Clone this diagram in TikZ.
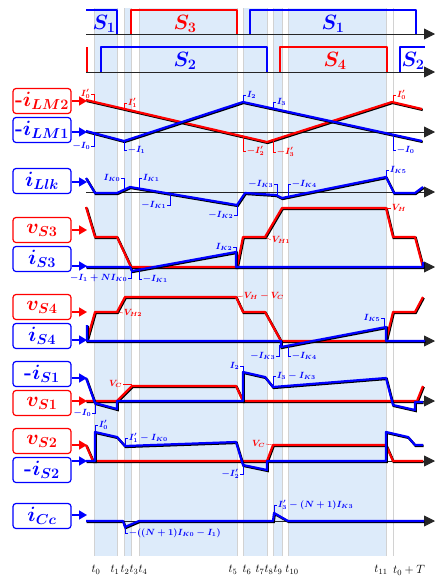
\documentclass[tikz,border=0pt]{standalone}
\usepackage{amsmath}
\usepackage{bm}
\usetikzlibrary{arrows.meta}
\definecolor{bandblue}{RGB}{221,235,250}

\begin{document}
\begin{tikzpicture}[x=1pt, y=-1pt,
    wave/.style={line width=2.2pt, line join=round,
      preaction={draw=black, line width=2.4pt, transform canvas={shift={(0.7pt,-0.9pt)}}}},
    sw/.style={line width=1.8pt, line join=round},
    axis/.style={black!85, line width=0.9pt, -{Triangle[length=11pt,width=11pt]}},
    sig/.style={draw, rounded corners=3pt, line width=1.2pt, minimum width=58pt,
      minimum height=25pt, inner sep=1pt, font=\huge},
    feed/.style={line width=1.6pt, -{Triangle[length=8pt,width=9pt]}},
    tag/.style={font=\small\boldmath, inner sep=0.6pt},
    lead/.style={line width=0.35pt},
    tline/.style={gray!35, line width=0.4pt},
    sname/.style={font=\huge\boldmath, inner sep=0pt}]
    \useasboundingbox (0,0) rectangle (435,581);

    % intervalos sombreados
    \fill[bandblue] (94,8) rectangle (117,556);
    \fill[bandblue] (124,8) rectangle (131,556);
    \fill[bandblue] (139,8) rectangle (237,556);
    \fill[bandblue] (243,8) rectangle (267,556);
    \fill[bandblue] (273,8) rectangle (282,556);
    \fill[bandblue] (288,8) rectangle (386,556);
    \foreach \t in {94,117,124,131,139,237,243,267,273,282,288,386,393}
        \draw[tline] (\t,8) -- (\t,556);

    % ejes
    \foreach \y in {34,72,132,192,267,341,401,461,521}
        \draw[axis] (86,\y) -- (435,\y);

    % senales de puerta
    \draw[sw, blue] (86,10) -- (117,10) -- (117,34);
    \draw[sw, red] (131,34) -- (131,10) -- (237,10) -- (237,34);
    \draw[sw, blue] (250,34) -- (250,10) -- (416,10) -- (416,34);
    \draw[sw, red] (87,47) -- (87,72);
    \draw[sw, blue] (101,72) -- (101,47) -- (267,47) -- (267,72);
    \draw[sw, red] (280,72) -- (280,47) -- (387,47) -- (387,72);
    \draw[sw, blue] (400,72) -- (400,47) -- (425,47);
    \node[sname, blue] (s1a) at (104,24) {$S_1$};
    \node[sname, red] (s3) at (185,24) {$S_3$};
    \node[sname, blue] (s1b) at (333,24) {$S_1$};
    \node[sname, blue] (s2a) at (185,61) {$S_2$};
    \node[sname, red] (s4) at (335,61) {$S_4$};
    \node[sname, blue] (s2b) at (413,61) {$S_2$};

    % etiquetas de las curvas
    \node[sig, red] (lm2) at (42,101) {\textbf{-}$\bm{i_{LM2}}$};
    \node[sig, blue] (lm1) at (42,130) {\textbf{-}$\bm{i_{LM1}}$};
    \node[sig, blue] (llk) at (42,181) {$\bm{i_{Llk}}$};
    \node[sig, red] (vs3) at (42,230) {$\bm{v_{S3}}$};
    \node[sig, blue] (is3) at (42,259) {$\bm{i_{S3}}$};
    \node[sig, red] (vs4) at (42,307) {$\bm{v_{S4}}$};
    \node[sig, blue] (is4) at (42,336) {$\bm{i_{S4}}$};
    \node[sig, blue] (is1) at (42,374) {\textbf{-}$\bm{i_{S1}}$};
    \node[sig, red] (vs1) at (42,403) {$\bm{v_{S1}}$};
    \node[sig, red] (vs2) at (42,441) {$\bm{v_{S2}}$};
    \node[sig, blue] (is2) at (42,470) {\textbf{-}$\bm{i_{S2}}$};
    \node[sig, blue] (icc) at (42,516) {$\bm{i_{Cc}}$};
    \coordinate (lm2e) at (87,101);
    \coordinate (lm1e) at (87,132);
    \coordinate (llke) at (87,182);
    \coordinate (vs3e) at (87,230);
    \coordinate (is3e) at (87,266);
    \coordinate (vs4e) at (87,312);
    \coordinate (is4e) at (87,340);
    \coordinate (is1e) at (87,378);
    \coordinate (vs1e) at (87,401);
    \coordinate (vs2e) at (87,445);
    \coordinate (is2e) at (87,461);
    \coordinate (icce) at (87,515);
    \foreach \n/\c in {lm2/red,lm1/blue,llk/blue,vs3/red,is3/blue,vs4/red,is4/blue,
                       is1/blue,vs1/red,vs2/red,is2/blue,icc/blue}
        \draw[feed, \c] (\n.east |- \n e) -- (\n e);

    % corrientes magnetizantes
    \draw[wave, red] (86,100) -- (267,142) -- (392,102) -- (422,109);
    \draw[wave, blue] (86,131) -- (124,141) -- (243,102) -- (422,141);
    \draw[lead, red] (94,102) |- (91,94) node[tag, left] (a0) {$I'_0$};
    \draw[lead, red] (124,109) |- (127,103) node[tag, right] (a1) {$I'_1$};
    \draw[lead, blue] (94,133) |- (91,146) node[tag, left] (b0) {$-I_0$};
    \draw[lead, blue] (124,141) |- (127,150) node[tag, right] (b1) {$-I_1$};
    \draw[lead, blue] (243,102) |- (246,95) node[tag, right] (b2) {$I_2$};
    \draw[lead, blue] (273,109) |- (276,102) node[tag, right] (b3) {$I_3$};
    \draw[lead, red] (243,137) |- (246,151) node[tag, right] (a2) {$-I'_2$};
    \draw[lead, red] (273,140) |- (276,152) node[tag, right] (a3) {$-I'_3$};
    \draw[lead, red] (393,102) |- (396,95) node[tag, right] (a4) {$I'_0$};
    \draw[lead, blue] (393,135) |- (396,150) node[tag, right] (b4) {$-I_0$};

    % corriente de fuga
    \draw[wave, blue] (86,178) -- (95,193) -- (117,193) -- (130,187) -- (237,205)
        -- (245,193) -- (276,195) -- (282,198) -- (386,177) -- (394,193)
        -- (415,193) -- (423,187);
    \draw[lead, blue] (124,190) |- (121,178) node[tag, left] (k0) {$I_{K0}$};
    \draw[lead, blue] (139,189) |- (142,178) node[tag, right] (k1) {$I_{K1}$};
    \draw[lead, blue] (170,194) |- (167,205) node[tag, left] (k1n) {$-I_{K1}$};
    \draw[lead, blue] (237,205) |- (234,215) node[tag, left] (k2n) {$-I_{K2}$};
    \draw[lead, blue] (277,196) |- (274,184) node[tag, left] (k3n) {$-I_{K3}$};
    \draw[lead, blue] (288,197) |- (291,184) node[tag, right] (k4n) {$-I_{K4}$};
    \draw[lead, blue] (386,177) |- (389,170) node[tag, right] (k5) {$I_{K5}$};

    % S3
    \draw[wave, red] (86,207) -- (95,237) -- (117,237) -- (131,267) -- (237,267)
        -- (243,237) -- (265,237) -- (282,208) -- (386,208) -- (393,237)
        -- (415,237) -- (423,267);
    \draw[wave, blue] (86,267) -- (130,267) -- (132,271) -- (236,252) -- (236,267)
        -- (423,267) -- (423,262);
    \draw[lead, red] (265,237) -- (271,240) node[tag, right] (vh1) {$V_{H1}$};
    \draw[lead, red] (386,208) -- (391,208) node[tag, right] (vh) {$V_H$};
    \draw[lead, blue] (131,270) |- (128,278) node[tag, left] (c1) {$-I_1+NI_{K0}$};
    \draw[lead, blue] (139,269) |- (142,279) node[tag, right] (c2) {$-I_{K1}$};
    \draw[lead, blue] (236,252) |- (233,247) node[tag, left] (c3) {$I_{K2}$};

    % S4
    \draw[wave, red] (87,340) -- (95,312) -- (117,312) -- (125,297) -- (236,297)
        -- (243,312) -- (265,312) -- (281,341) -- (386,341) -- (393,312)
        -- (415,312) -- (423,297);
    \draw[wave, blue] (87,325) -- (87,341) -- (281,341) -- (281,347) -- (386,327)
        -- (386,341) -- (425,341);
    \draw[lead, red] (117,312) -- (123,313) node[tag, right] (vh2) {$V_{H2}$};
    \draw[lead, red] (237,297) -- (243,296) node[tag, right] (vhc) {$V_H-V_C$};
    \draw[lead, blue] (279,345) |- (276,356) node[tag, left] (d1) {$-I_{K3}$};
    \draw[lead, blue] (288,346) |- (291,356) node[tag, right] (d2) {$-I_{K4}$};
    \draw[lead, blue] (384,327) |- (381,318) node[tag, left] (d3) {$I_{K5}$};

    % S1
    \draw[wave, red] (86,401) -- (117,401) -- (132,386) -- (236,386) -- (243,401)
        -- (417,401) -- (423,386);
    \draw[wave, blue] (86,378) -- (95,403) -- (117,409) -- (117,401) -- (243,401)
        -- (243,372) -- (265,377) -- (273,387) -- (386,378) -- (393,405)
        -- (415,410) -- (415,402) -- (423,402);
    \draw[lead, red] (131,386) |- (123,384) node[tag, left] (vc1) {$V_C$};
    \draw[lead, blue] (95,403) |- (92,413) node[tag, left] (e1) {$-I_0$};
    \draw[lead, blue] (243,372) |- (240,366) node[tag, left] (e2) {$I_2$};
    \draw[lead, blue] (273,387) |- (276,376) node[tag, right] (e3) {$I_3-I_{K3}$};

    % S2
    \draw[wave, red] (86,445) -- (93,461) -- (267,461) -- (273,445) -- (386,445)
        -- (393,461) -- (423,461);
    \draw[wave, blue] (86,461) -- (95,461) -- (95,432) -- (117,437) -- (125,446)
        -- (236,442) -- (243,465) -- (267,470) -- (267,461) -- (386,461)
        -- (386,432) -- (408,437) -- (415,445) -- (423,445);
    \draw[lead, blue] (95,432) |- (98,425) node[tag, right] (f1) {$I'_0$};
    \draw[lead, blue] (125,446) |- (128,438) node[tag, right] (f2) {$I'_1-I_{K0}$};
    \draw[lead, red] (273,445) -- (266,444) node[tag, left] (vc2) {$V_C$};
    \draw[lead, blue] (243,465) |- (240,474) node[tag, left] (f3) {$-I'_2$};

    % Cc
    \draw[wave, blue] (86,521) -- (123,521) -- (125,527) -- (139,521) -- (273,521)
        -- (274,513) -- (288,521) -- (424,521);
    \draw[lead, blue] (125,527) |- (128,533) node[tag, right] (g1) {$-((N+1)I_{K0}-I_1)$};
    \draw[lead, blue] (274,513) |- (277,505) node[tag, right] (g2) {$I'_3-(N+1)I_{K3}$};

    % instantes
    \foreach \x/\l [count=\i] in {96/t_0,115/t_1,125/t_2,134/t_3,143/t_4,233/t_5,
        247/t_6,260/t_7,269/t_8,278/t_9,292/t_{10},381/t_{11},409/t_0+T}
        \node[font=\large, inner sep=0pt] (tt\i) at (\x,570) {$\l$};
\end{tikzpicture}
\end{document}
